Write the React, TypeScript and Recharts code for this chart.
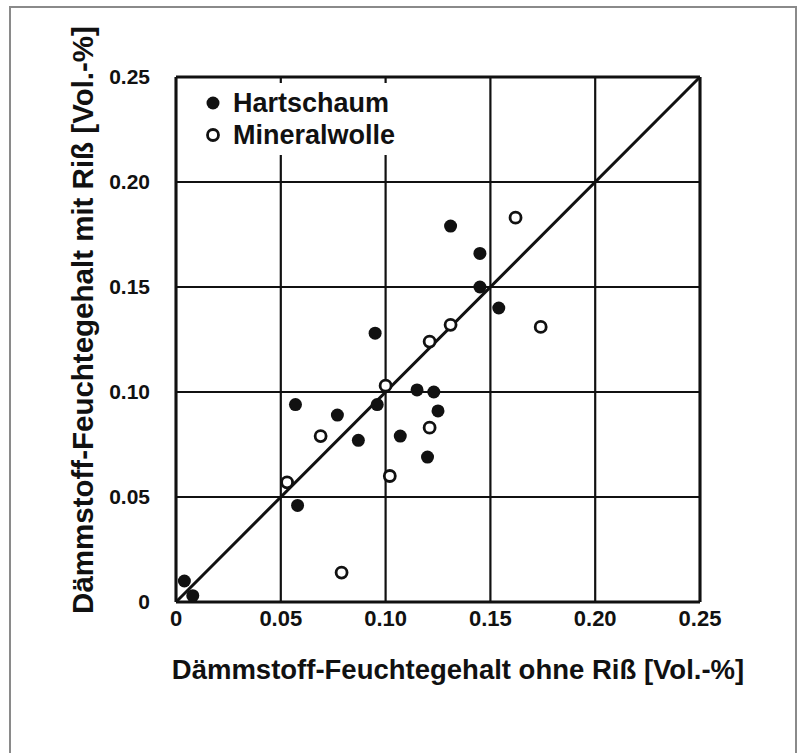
import {
  CartesianGrid,
  Legend,
  ReferenceLine,
  Scatter,
  ScatterChart,
  XAxis,
  YAxis,
} from "recharts";

// axis ticks (same scale on both axes)
const ticks = [0, 0.05, 0.1, 0.15, 0.2, 0.25];
const tickLabels = ["0", "0.05", "0.10", "0.15", "0.20", "0.25"];

const xTitle = "Dämmstoff-Feuchtegehalt ohne Riß [Vol.-%]";
const yTitle = "Dämmstoff-Feuchtegehalt mit Riß [Vol.-%]";

// filled dots
const hartschaum = [
  { x: 0.004, y: 0.01 },
  { x: 0.008, y: 0.003 },
  { x: 0.057, y: 0.094 },
  { x: 0.058, y: 0.046 },
  { x: 0.077, y: 0.089 },
  { x: 0.087, y: 0.077 },
  { x: 0.095, y: 0.128 },
  { x: 0.096, y: 0.094 },
  { x: 0.107, y: 0.079 },
  { x: 0.115, y: 0.101 },
  { x: 0.123, y: 0.1 },
  { x: 0.125, y: 0.091 },
  { x: 0.12, y: 0.069 },
  { x: 0.131, y: 0.179 },
  { x: 0.145, y: 0.166 },
  { x: 0.145, y: 0.15 },
  { x: 0.154, y: 0.14 },
];

// open circles
const mineralwolle = [
  { x: 0.053, y: 0.057 },
  { x: 0.069, y: 0.079 },
  { x: 0.079, y: 0.014 },
  { x: 0.1, y: 0.103 },
  { x: 0.102, y: 0.06 },
  { x: 0.121, y: 0.083 },
  { x: 0.121, y: 0.124 },
  { x: 0.131, y: 0.132 },
  { x: 0.162, y: 0.183 },
  { x: 0.174, y: 0.131 },
];

const diagonal = [
  { x: 0, y: 0 },
  { x: 0.25, y: 0.25 },
];

const font = '"Liberation Sans", Arial, sans-serif';
const ink = "#111";

const fmt = (v: number) => tickLabels[ticks.findIndex((t) => Math.abs(t - v) < 1e-9)] ?? String(v);

const FilledDot = (p: any) => <circle cx={p.cx} cy={p.cy} r={6.5} fill={ink} />;
const OpenDot = (p: any) => (
  <circle cx={p.cx} cy={p.cy} r={5.5} fill="#fff" stroke={ink} strokeWidth={2.8} />
);

function LegendBox(props: any) {
  const items = props.payload || [];
  return (
    <div style={{ background: "#fff", width: 222, height: 72, paddingTop: 4, boxSizing: "border-box" }}>
      {items.map((it: any) => (
        <div
          key={it.value}
          style={{
            display: "flex",
            alignItems: "center",
            height: 32,
            fontFamily: font,
            fontWeight: 700,
            fontSize: 27,
            color: ink,
            whiteSpace: "nowrap",
          }}
        >
          <svg width={55} height={20} style={{ flex: "none" }}>
            {it.value === "Hartschaum" ? (
              <circle cx={35} cy={10} r={6.5} fill={ink} />
            ) : (
              <circle cx={35} cy={10} r={5.5} fill="#fff" stroke={ink} strokeWidth={2.8} />
            )}
          </svg>
          <span>{it.value}</span>
        </div>
      ))}
    </div>
  );
}

export default function App() {
  return (
    <div style={{ position: "absolute", left: 0, top: 0, width: 807, height: 753, background: "#fff", overflow: "hidden" }}>
      <div
        style={{
          position: "absolute",
          left: 9,
          top: 6,
          width: 788,
          height: 760,
          border: "2px solid #8a8a8a",
          boxSizing: "border-box",
        }}
      />
      <ScatterChart
        width={807}
        height={753}
        margin={{ top: 77, right: 107, left: 0, bottom: 0 }}
        style={{ position: "absolute", left: 0, top: 0 }}
      >
        <CartesianGrid stroke={ink} strokeWidth={2.2} horizontalValues={ticks} verticalValues={ticks} />
        <XAxis
          type="number"
          dataKey="x"
          domain={[0, 0.25]}
          ticks={ticks}
          tickFormatter={fmt}
          height={151}
          tickSize={0}
          tickMargin={8}
          axisLine={{ stroke: ink, strokeWidth: 3 }}
          tick={{ fill: ink, fontFamily: font, fontSize: 22, fontWeight: 600 }}
          label={{
            content: () => (
              <text
                x={458}
                y={679}
                textAnchor="middle"
                fontFamily={font}
                fontWeight={700}
                fontSize={27.5}
                fill={ink}
              >
                {xTitle}
              </text>
            ),
          }}
        />
        <YAxis
          type="number"
          dataKey="y"
          domain={[0, 0.25]}
          ticks={ticks}
          tickFormatter={fmt}
          width={176}
          tickSize={0}
          tickMargin={26}
          axisLine={{ stroke: ink, strokeWidth: 3 }}
          tick={{ fill: ink, fontFamily: font, fontSize: 21, fontWeight: 700 }}
          label={{
            content: () => (
              <text
                x={82}
                y={320}
                transform="rotate(-90 82 320)"
                textAnchor="middle"
                dominantBaseline="central"
                fontFamily={font}
                fontWeight={700}
                fontSize={29.5}
                fill={ink}
              >
                {yTitle}
              </text>
            ),
          }}
        />
        <ReferenceLine y={0.25} stroke={ink} strokeWidth={3} />
        <ReferenceLine x={0.25} stroke={ink} strokeWidth={3} />
        <ReferenceLine segment={diagonal} stroke={ink} strokeWidth={3} />
        <Scatter name="Hartschaum" data={hartschaum} shape={FilledDot} isAnimationActive={false} />
        <Scatter name="Mineralwolle" data={mineralwolle} shape={OpenDot} isAnimationActive={false} />
        <Legend
          layout="horizontal"
          verticalAlign="middle"
          align="center"
          content={LegendBox}
          wrapperStyle={{ position: "absolute", left: 178, top: 83, width: 222, height: 72 }}
        />
      </ScatterChart>
    </div>
  );
}
